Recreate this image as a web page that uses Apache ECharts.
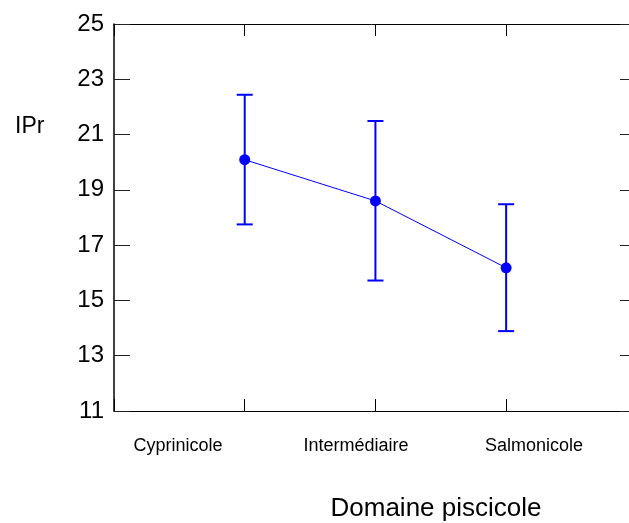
<!DOCTYPE html>
<html>
<head>
<meta charset="utf-8">
<script src="https://cdn.jsdelivr.net/npm/echarts@6/dist/echarts.min.js"></script>
<style>html,body{margin:0;padding:0;background:#fff}#c{width:629px;height:523px}</style>
</head>
<body>
<div id="c"></div>
<script>
var categories = ['Cyprinicole', 'Intermédiaire', 'Salmonicole'];
var positions = [1, 2, 3];
var means = [20.09, 18.60, 16.18];
var lows = [17.75, 15.72, 13.89];
var highs = [22.44, 21.49, 18.48];
var yTicks = [11, 13, 15, 17, 19, 21, 23, 25];
var yTitle = 'IPr';
var xTitle = 'Domaine piscicole';

var FONT = '"Liberation Sans", Arial, Helvetica, sans-serif';
var BLUE = '#0000ff';
var chart = echarts.init(document.getElementById('c'), null, {renderer: 'canvas'});

var lineData = positions.map(function (p, i) { return [p, means[i]]; });
var errData = positions.map(function (p, i) { return [p, lows[i], highs[i]]; });

chart.setOption({
  animation: false,
  backgroundColor: '#fff',
  grid: [
    {left: 114, right: 0, top: 24, bottom: 112},
    {left: 89, width: 534, top: 24, bottom: 112}
  ],
  xAxis: [
    {type: 'value', gridIndex: 0, min: 0, max: 3.94, interval: 1, position: 'bottom',
     axisLine: {show: true, onZero: false, lineStyle: {color: '#000', width: 1}},
     axisTick: {show: true, inside: true, length: 12, lineStyle: {color: '#000'}},
     axisLabel: {show: false}, splitLine: {show: false}},
    {type: 'value', gridIndex: 0, min: 0, max: 3.94, interval: 1, position: 'top',
     axisLine: {show: true, onZero: false, lineStyle: {color: '#000', width: 1}},
     axisTick: {show: true, inside: true, length: 12, lineStyle: {color: '#000'}},
     axisLabel: {show: false}, splitLine: {show: false}},
    {type: 'category', gridIndex: 1, data: categories, position: 'bottom',
     axisLine: {show: false}, axisTick: {show: false}, splitLine: {show: false},
     axisLabel: {show: true, margin: 26, color: '#000', fontSize: 18, fontFamily: FONT}}
  ],
  yAxis: [
    {type: 'value', gridIndex: 0, min: 11, max: 25, interval: 2, position: 'left',
     axisLine: {show: true, onZero: false, lineStyle: {color: '#000', width: 1.5}},
     axisTick: {show: true, inside: true, length: 16, lineStyle: {color: '#222'}},
     axisLabel: {show: true, margin: 10, color: '#000', fontSize: 24, fontFamily: FONT,
       formatter: function (v) { return yTicks.indexOf(v) >= 0 ? String(v) : ''; }},
     splitLine: {show: false}},
    {type: 'value', gridIndex: 0, min: 11, max: 25, interval: 2, position: 'right',
     axisLine: {show: true, onZero: false, lineStyle: {color: 'rgba(0,0,0,0)'}},
     axisTick: {show: true, inside: true, length: 9, lineStyle: {color: '#222'}},
     axisLabel: {show: false}, splitLine: {show: false}},
    {type: 'value', gridIndex: 1, min: 11, max: 25, show: false}
  ],
  graphic: [
    {type: 'text', left: 15, top: 115, style: {text: yTitle, fill: '#000', font: '23px ' + FONT}},
    {type: 'text', x: 436, y: 509, style: {text: xTitle, fill: '#000', font: '26px ' + FONT, textAlign: 'center', textVerticalAlign: 'middle'}}
  ],
  series: [
    {type: 'custom', xAxisIndex: 0, yAxisIndex: 0, data: errData, z: 3,
     encode: {x: 0, y: [1, 2]},
     renderItem: function (params, api) {
       var x = api.value(0);
       var lo = api.coord([x, api.value(1)]);
       var hi = api.coord([x, api.value(2)]);
       var hw = 8;
       var st = {stroke: BLUE, lineWidth: 2};
       return {type: 'group', children: [
         {type: 'line', shape: {x1: lo[0], y1: lo[1], x2: hi[0], y2: hi[1]}, style: st},
         {type: 'line', shape: {x1: hi[0] - hw, y1: hi[1], x2: hi[0] + hw, y2: hi[1]}, style: st},
         {type: 'line', shape: {x1: lo[0] - hw, y1: lo[1], x2: lo[0] + hw, y2: lo[1]}, style: st}
       ]};
     }},
    {type: 'line', xAxisIndex: 0, yAxisIndex: 0, data: lineData, z: 4,
     symbol: 'circle', symbolSize: 11, showSymbol: true,
     lineStyle: {color: BLUE, width: 1}, itemStyle: {color: BLUE}}
  ]
});
</script>
</body>
</html>
